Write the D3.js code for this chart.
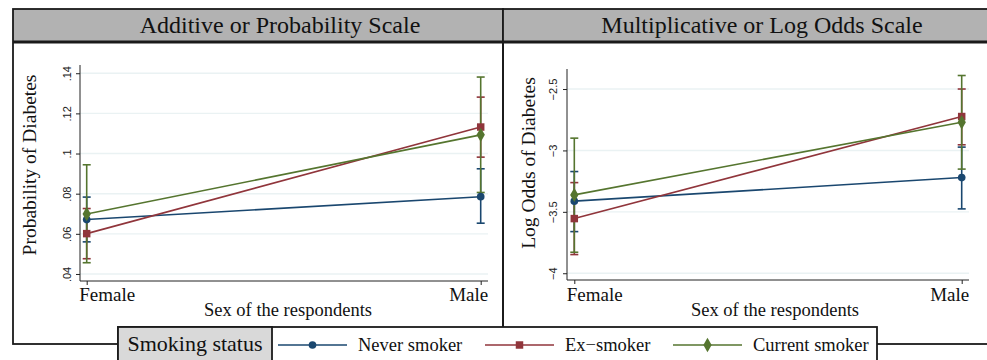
<!DOCTYPE html>
<html>
<head>
<meta charset="utf-8">
<script src="https://cdn.jsdelivr.net/npm/d3@7"></script>
<style>
  html, body { margin: 0; padding: 0; background: #fff; }
  svg { display: block; font-family: "Liberation Serif", "Times New Roman", serif; }
</style>
</head>
<body>
<svg id="chart" width="987" height="360"></svg>
<script>
// Categories on the x axis
const sexes = ["Female", "Male"];
const seriesNames = ["Never smoker", "Ex\u2212smoker", "Current smoker"];
const seriesColors = ["#1a476f", "#90353b", "#55752f"];
const seriesShapes = ["circle", "square", "diamond"];

// Predicted probability of diabetes with 95% CI: [estimate, lower, upper] per sex
const probNever   = [[0.0671, 0.0560, 0.0783], [0.0785, 0.0653, 0.0924]];
const probEx      = [[0.0601, 0.0476, 0.0726], [0.1132, 0.0982, 0.1281]];
const probCurrent = [[0.0699, 0.0456, 0.0944], [0.1093, 0.0806, 0.1381]];

// Log odds of diabetes with 95% CI
const logNever   = [[-3.413, -3.661, -3.172], [-3.221, -3.476, -2.973]];
const logEx      = [[-3.555, -3.848, -3.262], [-2.724, -2.954, -2.500]];
const logCurrent = [[-3.362, -3.829, -2.900], [-2.770, -3.152, -2.390]];

// Tick values and labels
const probTicks = [0.04, 0.06, 0.08, 0.10, 0.12, 0.14];
const probTickLabels = [".04", ".06", ".08", ".1", ".12", ".14"];
const logTicks = [-4, -3.5, -3, -2.5];
const logTickLabels = ["\u22124", "\u22123.5", "\u22123", "\u22122.5"];

const svg = d3.select("#chart");

const panels = [
  {
    title: "Additive or Probability Scale",
    ytitle: "Probability of Diabetes",
    data: [probNever, probEx, probCurrent],
    ticks: probTicks, tickLabels: probTickLabels,
    domain: [0.0365, 0.1441],
    box: { x0: 13, x1: 503 },
    plot: { left: 80, right: 488, top: 65, bottom: 281, xFemale: 86.7, xMale: 480.7 },
    titleX: 280, tickLabelX: 67, ytitleX: 36, ytitleY: 165, xtitleX: 288
  },
  {
    title: "Multiplicative or Log Odds Scale",
    ytitle: "Log Odds of Diabetes",
    data: [logNever, logEx, logCurrent],
    ticks: logTicks, tickLabels: logTickLabels,
    domain: [-4.055, -2.337],
    box: { x0: 503, x1: 1027 },
    plot: { left: 567, right: 969, top: 69, bottom: 280, xFemale: 574.3, xMale: 961.7 },
    titleX: 762, tickLabelX: 553, ytitleX: 535, ytitleY: 163, xtitleX: 775
  }
];

const boxTop = 9, headerBottom = 42, boxBottom = 344;

function markerPath(shape) {
  if (shape === "circle") return d3.symbol().type(d3.symbolCircle).size(46)();
  if (shape === "square") return d3.symbol().type(d3.symbolSquare).size(56)();
  return d3.symbol().type(d3.symbolDiamond).size(60)();
}

panels.forEach(p => {
  const g = svg.append("g");
  const b = p.box;

  // panel frame and header
  g.append("rect").attr("x", b.x0).attr("y", boxTop)
    .attr("width", b.x1 - b.x0).attr("height", headerBottom - boxTop)
    .attr("fill", "#b2b2b2");
  g.append("rect").attr("x", b.x0).attr("y", boxTop)
    .attr("width", b.x1 - b.x0).attr("height", boxBottom - boxTop)
    .attr("fill", "none").attr("stroke", "#1a1a1a").attr("stroke-width", 1.8);
  g.append("line").attr("x1", b.x0).attr("x2", b.x1)
    .attr("y1", headerBottom).attr("y2", headerBottom)
    .attr("stroke", "#1a1a1a").attr("stroke-width", 3);
  g.append("text").attr("x", p.titleX).attr("y", 33)
    .attr("text-anchor", "middle").attr("font-size", 24).attr("fill", "#111")
    .text(p.title);

  const x = d3.scalePoint().domain(sexes).range([p.plot.xFemale, p.plot.xMale]);
  const y = d3.scaleLinear().domain(p.domain).range([p.plot.bottom, p.plot.top]);

  // grid lines
  g.append("g").selectAll("line").data(p.ticks).join("line")
    .attr("x1", p.plot.left).attr("x2", p.plot.right)
    .attr("y1", d => y(d)).attr("y2", d => y(d))
    .attr("stroke", "#eaf2f3").attr("stroke-width", 1.4);

  // y axis
  const yAxis = d3.axisLeft(y).tickValues(p.ticks).tickSize(4)
    .tickFormat((d, i) => p.tickLabels[i]);
  const ya = g.append("g").attr("transform", `translate(${p.plot.left},0)`).call(yAxis);
  ya.select(".domain").attr("stroke", "#222").attr("d", `M-0,${p.plot.top}V${p.plot.bottom}`);
  ya.selectAll(".tick line").attr("stroke", "#222");
  ya.selectAll(".tick text")
    .attr("font-family", "Liberation Sans, Arial, sans-serif")
    .attr("font-size", 11).attr("fill", "#222")
    .attr("x", null).attr("dy", null)
    .attr("text-anchor", "middle")
    .attr("transform", `translate(${p.tickLabelX - p.plot.left + 4},0) rotate(-90)`);

  // x axis
  const xAxis = d3.axisBottom(x).tickSize(4);
  const xa = g.append("g").attr("transform", `translate(0,${p.plot.bottom})`).call(xAxis);
  xa.select(".domain").attr("stroke", "#222").attr("d", `M${p.plot.left},0H${p.plot.right}`);
  xa.selectAll(".tick line").attr("stroke", "#222");
  xa.selectAll(".tick text").attr("font-family", "Liberation Serif, serif")
    .attr("font-size", 19).attr("fill", "#111")
    .attr("y", 301 - p.plot.bottom).attr("dy", null)
    .attr("text-anchor", d => d === "Female" ? "start" : "end")
    .attr("x", d => d === "Female" ? -8 : 7);

  // axis titles
  g.append("text").attr("transform", `translate(${p.ytitleX},${p.ytitleY}) rotate(-90)`)
    .attr("text-anchor", "middle").attr("font-size", 19.5).attr("fill", "#111").text(p.ytitle);
  g.append("text").attr("x", p.xtitleX).attr("y", 316)
    .attr("text-anchor", "middle").attr("font-size", 18.5).attr("fill", "#111").text("Sex of the respondents");

  // confidence intervals
  p.data.forEach((series, si) => {
    const col = seriesColors[si];
    const ci = g.append("g");
    series.forEach((d, i) => {
      const cx = x(sexes[i]);
      ci.append("line").attr("x1", cx).attr("x2", cx).attr("y1", y(d[1])).attr("y2", y(d[2]))
        .attr("stroke", col).attr("stroke-width", 1.6);
      [d[1], d[2]].forEach(v => {
        ci.append("line").attr("x1", cx - 4).attr("x2", cx + 4).attr("y1", y(v)).attr("y2", y(v))
          .attr("stroke", col).attr("stroke-width", 1.6);
      });
    });
  });

  // connecting lines
  const line = d3.line().x((d, i) => x(sexes[i])).y(d => y(d[0]));
  p.data.forEach((series, si) => {
    g.append("path").datum(series).attr("d", line)
      .attr("fill", "none").attr("stroke", seriesColors[si]).attr("stroke-width", 1.6);
  });

  // markers
  p.data.forEach((series, si) => {
    g.append("g").selectAll("path").data(series).join("path")
      .attr("d", markerPath(seriesShapes[si]))
      .attr("transform", (d, i) => `translate(${x(sexes[i])},${y(d[0])})`)
      .attr("fill", seriesColors[si]);
  });
});

// legend
const leg = svg.append("g");
const legX0 = 118, legX1 = 877, legY0 = 327, legY1 = 366, legTitleX1 = 272;
leg.append("rect").attr("x", legX0).attr("y", legY0).attr("width", legX1 - legX0).attr("height", legY1 - legY0)
  .attr("fill", "#fff").attr("stroke", "#1a1a1a").attr("stroke-width", 1.8);
leg.append("rect").attr("x", legX0).attr("y", legY0).attr("width", legTitleX1 - legX0).attr("height", legY1 - legY0)
  .attr("fill", "#d9d9d9").attr("stroke", "#1a1a1a").attr("stroke-width", 1.8);
leg.append("text").attr("x", (legX0 + legTitleX1) / 2).attr("y", 351).attr("text-anchor", "middle")
  .attr("font-size", 22).attr("fill", "#111").text("Smoking status");

const legItemX = [278, 485, 673];
seriesNames.forEach((name, si) => {
  const lx = legItemX[si];
  const cy = 345;
  leg.append("line").attr("x1", lx).attr("x2", lx + 69).attr("y1", cy).attr("y2", cy)
    .attr("stroke", seriesColors[si]).attr("stroke-width", 1.6);
  leg.append("path").attr("d", markerPath(seriesShapes[si]))
    .attr("transform", `translate(${lx + 34.5},${cy})`).attr("fill", seriesColors[si]);
  leg.append("text").attr("x", lx + 80).attr("y", 351).attr("font-size", 18.5).attr("fill", "#111").text(name);
});
</script>
</body>
</html>
